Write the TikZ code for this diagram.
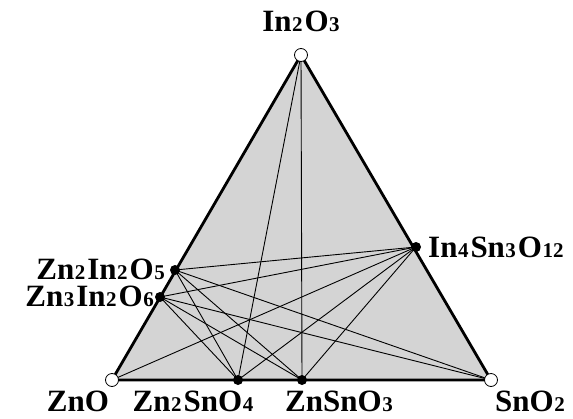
\documentclass[tikz,border=0pt]{standalone}
\usepackage{fontspec}
\setmainfont{Liberation Serif}
\newcommand\dg[1]{\kern0.5pt{\fontsize{21}{21}\selectfont #1}\kern2pt}
\definecolor{fillgray}{HTML}{D4D4D4}
\tikzset{
  lbl/.style={font=\fontsize{31}{33}\selectfont\bfseries, inner sep=0pt},
  opendot/.style={circle, draw=black, fill=white, line width=0.8pt, minimum size=13pt, inner sep=0pt},
  fulldot/.style={circle, fill=black, minimum size=10pt, inner sep=0pt},
  tie/.style={line width=0.9pt, black},
  edge/.style={line width=2.8pt, black, line join=round}
}
\begin{document}
\begin{tikzpicture}[x=1pt,y=-1pt]
\useasboundingbox (0,0) rectangle (573,418);
\coordinate (A) at (301,55);
\coordinate (B) at (112,380);
\coordinate (C) at (491,380);
\fill[fillgray] (A) -- (B) -- (C) -- cycle;
\coordinate (ito) at (416,247);
\coordinate (zi5) at (175,270);
\coordinate (zi6) at (160,297);
\coordinate (zs4) at (238,380);
\coordinate (zs3) at (302,380);
% tie lines
\draw[tie] (A) -- (zs4);
\draw[tie] (A) -- (zs3);
\draw[tie] (ito) -- (zi5);
\draw[tie] (ito) -- (zi6);
\draw[tie] (ito) -- (B);
\draw[tie] (ito) -- (zs4);
\draw[tie] (ito) -- (zs3);
\draw[tie] (zi5) -- (zs4);
\draw[tie] (zi5) -- (zs3);
\draw[tie] (zi5) -- (C);
\draw[tie] (zi6) -- (zs4);
\draw[tie] (zi6) -- (zs3);
\draw[tie] (zi6) -- (C);
\draw[edge] (A) -- (B) -- (C) -- cycle;
% dots
\node[opendot] (nA) at (A) {};
\node[opendot] (nB) at (B) {};
\node[opendot] (nC) at (C) {};
\node[fulldot] (nito) at (ito) {};
\node[fulldot] (nzi5) at (zi5) {};
\node[fulldot] (nzi6) at (zi6) {};
\node[fulldot] (nzs4) at (zs4) {};
\node[fulldot] (nzs3) at (zs3) {};
% labels
\node[lbl, anchor=base] (tA) at (302,31) {In\dg{2}O\dg{3}};
\node[lbl, anchor=base east] (tzi5) at (167,279) {Zn\dg{2}In\dg{2}O\dg{5}};
\node[lbl, anchor=base east] (tzi6) at (156,306) {Zn\dg{3}In\dg{2}O\dg{6}};
\node[lbl, anchor=base west] (tito) at (428,257) {In\dg{4}Sn\dg{3}O\dg{12}};
\node[lbl, anchor=base] (tB) at (78,411) {ZnO};
\node[lbl, anchor=base] (tzs4) at (194,411) {Zn\dg{2}SnO\dg{4}};
\node[lbl, anchor=base] (tzs3) at (340,411) {ZnSnO\dg{3}};
\node[lbl, anchor=base] (tC) at (531,411) {SnO\dg{2}};
\end{tikzpicture}
\end{document}
